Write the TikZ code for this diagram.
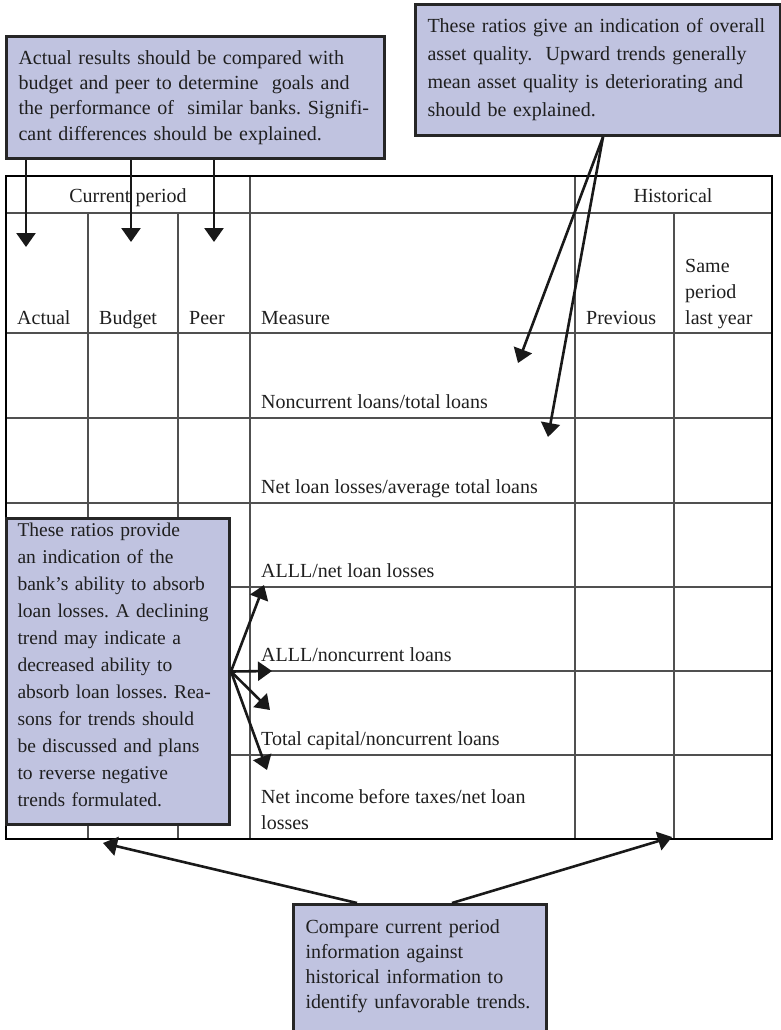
\documentclass[tikz,border=0pt]{standalone}
\usepackage{fontspec}
\setmainfont{Liberation Serif}
\usetikzlibrary{arrows.meta,positioning}
\definecolor{notefill}{RGB}{192,195,224}
\definecolor{rulegray}{RGB}{80,80,80}
\tikzset{
  note/.style={draw=black!85,line width=3pt,fill=notefill,anchor=north west,
    align=left,inner xsep=12pt,inner ysep=0pt,text=black!88,font=\fontsize{20}{26}\selectfont},
  pointer/.style={line width=2.6pt,draw=black!90,-{Triangle[width=19pt,length=14pt]}},
  cell/.style={anchor=base west,inner sep=0pt,text=black!88,font=\fontsize{20}{26}\selectfont},
  gridline/.style={draw=rulegray,line width=1.2pt},
}

\begin{document}
\frenchspacing
\begin{tikzpicture}[x=1pt,y=-1pt]
      \useasboundingbox (0,0) rectangle (781,1030);
      % the table
      \draw[gridline] (6,213) -- (772,213);
      \foreach \y in {333,418,503,587,671,755}
        \draw[gridline] (6,\y) -- (772,\y);
      \foreach \x in {88,178,674}
        \draw[gridline] (\x,213) -- (\x,839);
      \foreach \x in {250,575}
        \draw[gridline] (\x,176) -- (\x,839);
      \draw[line width=2.5pt] (6,176) rectangle (772,839); % outer frame
      %% headings
      \node[cell,anchor=base] (current) at (128,202) {Current period};
      \node[cell,anchor=base] (historical) at (673,202) {Historical};
      \foreach \x/\txt [count=\i] in {17/Actual,99/Budget,189/Peer,261/Measure,586/Previous,685/last year}
        \node[cell] (col\i) at (\x,324) {\txt};
      \node[cell] (same) at (685,272) {Same};
      \node[cell] (period) at (685,298) {period};
      %% the measures
      \foreach \y/\txt [count=\i] in {408/{Noncurrent loans/total loans},493/{Net loan losses/average total loans},
          577/{ALLL/net loan losses},661/{ALLL/noncurrent loans},745/{Total capital/noncurrent loans},
          803/{Net income before taxes/net loan},829/{losses}}
        \node[cell] (measure\i) at (261,\y) {\txt};
      % the notes
      \node[note,minimum width=378pt,minimum height=122pt,text width=354pt,font=\fontsize{20}{25.3}\selectfont]
        (budgetnote) at (5,35) {Actual results should be compared with\\budget and peer to determine~ goals and\\the performance of~ similar banks. Signifi-\\cant differences should be explained.};
      \node[note,minimum width=365pt,minimum height=131pt,text width=341pt,font=\fontsize{20}{28}\selectfont]
        (qualitynote) at (414,3) {These ratios give an indication of overall\\asset quality.~ Upward trends generally\\mean asset quality is deteriorating and\\should be explained.};
      \node[note,minimum width=223pt,minimum height=306pt,text width=201pt,inner xsep=11pt,font=\fontsize{19.5}{27}\selectfont]
        (capacitynote) at (5,517) {These ratios provide\\an indication of the\\bank's ability to absorb\\loan losses. A declining\\trend may indicate a\\decreased ability to\\absorb loan losses. Rea-\\sons for trends should\\be discussed and plans\\to reverse negative\\trends formulated.\\[-13pt]\mbox{}};
      \node[note,minimum width=253pt,minimum height=185pt,text width=229pt,font=\fontsize{20}{25}\selectfont]
        (trendnote) at (292,903) {Compare current period\\information against\\historical information to\\identify unfavorable trends.\\[40pt]\mbox{}};
      % arrow ends
      \coordinate (tipactual) at (26,247);
      \coordinate (tipbudget) at (131,242);
      \coordinate (tippeer) at (214,242);
      \coordinate (tipnonc) at (518,363);
      \coordinate (tipnet) at (548,437);
      \coordinate (tipalllnet) at (264,585);
      \coordinate (tipalllnonc) at (272,671);
      \coordinate (tipcap) at (270,710);
      \coordinate (tipinc) at (267,770);
      \coordinate (tipcurrent) at (103,843);
      \coordinate (tiphist) at (672,837);
      %% the arrows
      \foreach \t in {tipactual,tipbudget,tippeer}
        \draw[pointer] (budgetnote.south -| \t) -- (\t);
      \foreach \t in {tipnonc,tipnet}
        \draw[pointer] ([xshift=5pt]qualitynote.south) -- (\t);
      \foreach \t in {tipalllnet,tipalllnonc,tipcap,tipinc}
        \draw[pointer] (capacitynote.east) -- (\t);
      \draw[pointer] ([xshift=-63pt]trendnote.north) -- (tipcurrent);
      \draw[pointer] ([xshift=32pt]trendnote.north) -- (tiphist);
\end{tikzpicture}
\end{document}
